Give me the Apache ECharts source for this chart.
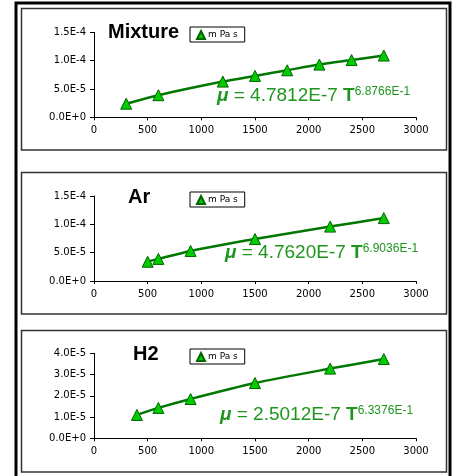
<!DOCTYPE html>
<html><head><meta charset="utf-8">
<script src="https://cdn.jsdelivr.net/npm/echarts@6/dist/echarts.min.js"></script>
<style>html,body{margin:0;padding:0;background:#fff}#c{width:456px;height:476px}</style>
</head><body><div id="c"></div>
<script>
const tMix = [300, 600, 1200, 1500, 1800, 2100, 2400, 2700];
const muMix = [2.4e-5, 3.9e-5, 6.3e-5, 7.3e-5, 8.3e-5, 9.3e-5, 1.01e-4, 1.09e-4];
const tAr = [500, 600, 900, 1500, 2200, 2700];
const muAr = [3.4e-5, 3.9e-5, 5.3e-5, 7.4e-5, 9.6e-5, 1.11e-4];
const tH2 = [400, 600, 900, 1500, 2200, 2700];
const muH2 = [1.1e-5, 1.43e-5, 1.85e-5, 2.6e-5, 3.28e-5, 3.73e-5];
const panelTitles = ['Mixture', 'Ar', 'H2'];
const eqCoef = ['4.7812E-7', '4.7620E-7', '2.5012E-7'];
const eqExp = ['6.8766E-1', '6.9036E-1', '6.3376E-1'];
const yMax = [1.5e-4, 1.5e-4, 4e-5];
const yStep = [5e-5, 5e-5, 1e-5];
const xMin = 0, xMax = 3000, xStep = 500;
const seriesName = 'm Pa s';

const chart = echarts.init(document.getElementById('c'), null, {renderer: 'canvas'});
const gridTops = [32.3, 196, 353.3];
const panelY = [8.5, 172.5, 330.5];
const panelH = [141.5, 141.5, 141.5];
const titleTops = [22, 187, 344];
const titleLefts = [108, 128, 133];
const legendTops = [27, 192, 349];
const eqPos = [[217, 86], [225, 243], [220, 405]];
const datasets = [[tMix, muMix], [tAr, muAr], [tH2, muH2]];
const green = '#1e961e';
const axisFont = {fontFamily: 'DejaVu Sans', fontSize: 10, color: '#000'};

const grids = [], xAxes = [], yAxes = [], series = [], titles = [], legends = [], graphics = [];
graphics.push({type: 'rect', shape: {x: 16, y: 3, width: 434, height: 490}, style: {fill: 'none', stroke: '#000', lineWidth: 3}, z: 0});
for (let i = 0; i < 3; i++) {
  graphics.push({type: 'rect', shape: {x: 21.5, y: panelY[i], width: 425, height: panelH[i]}, style: {fill: 'none', stroke: '#333', lineWidth: 1.5}, z: 0});
  grids.push({left: 94, width: 322, top: gridTops[i], height: 85, containLabel: false});
  xAxes.push({type: 'value', gridIndex: i, min: xMin, max: xMax, interval: xStep,
    axisLine: {show: true, onZero: false, lineStyle: {color: '#000', width: 1}},
    axisTick: {show: true, length: 3, lineStyle: {color: '#000'}},
    axisLabel: Object.assign({margin: 8, formatter: v => String(v)}, axisFont), splitLine: {show: false}});
  yAxes.push({type: 'value', gridIndex: i, min: 0, max: yMax[i], interval: yStep[i],
    axisLine: {show: true, lineStyle: {color: '#000', width: 1}},
    axisTick: {show: true, length: 4, lineStyle: {color: '#000'}},
    axisLabel: Object.assign({margin: 8, formatter: v => Number(v).toExponential(1).toUpperCase()}, axisFont),
    splitLine: {show: false}});
  const [xs, ys] = datasets[i];
  series.push({name: seriesName, type: 'line', xAxisIndex: i, yAxisIndex: i,
    data: xs.map((x, k) => [x, ys[k]]), smooth: 0.25,
    symbol: 'triangle', symbolSize: 11,
    lineStyle: {color: '#007800', width: 2.5},
    itemStyle: {color: '#00cc00', borderColor: '#006400', borderWidth: 1}, z: 3});
  titles.push({text: panelTitles[i], left: titleLefts[i], top: titleTops[i], padding: 0,
    textStyle: {fontFamily: 'Liberation Sans', fontSize: 20, fontWeight: 'bold', color: '#000'}});
  legends.push({data: [{name: seriesName, icon: 'triangle'}], left: 190, top: legendTops[i],
    orient: 'horizontal', padding: [3, 7, 2, 6], itemGap: 0, itemWidth: 8, itemHeight: 8,
    borderColor: '#000', borderWidth: 1, borderRadius: 0, backgroundColor: '#fff', selectedMode: false,
    textStyle: {fontFamily: 'DejaVu Sans', fontSize: 9, color: '#000', padding: [0, 0, 0, -2]}});
  graphics.push({type: 'text', left: eqPos[i][0], top: eqPos[i][1], z: 10,
    style: {text: '{mu|μ}{n| = ' + eqCoef[i] + ' }{t|T}{s|' + eqExp[i] + '}',
      rich: {
        mu: {fontFamily: 'Liberation Sans', fontSize: 19, fontStyle: 'italic', fontWeight: 'bold', fill: green, lineHeight: 20},
        n: {fontFamily: 'Liberation Sans', fontSize: 19, fill: green, lineHeight: 20},
        t: {fontFamily: 'Liberation Sans', fontSize: 19, fontWeight: 'bold', fill: green, lineHeight: 20},
        s: {fontFamily: 'Liberation Sans', fontSize: 12, fill: green, verticalAlign: 'top', lineHeight: 10}
      }}});
}
chart.setOption({
  animation: false, backgroundColor: '#fff',
  title: titles, legend: legends, grid: grids, xAxis: xAxes, yAxis: yAxes, series: series, graphic: graphics
});
</script></body></html>
